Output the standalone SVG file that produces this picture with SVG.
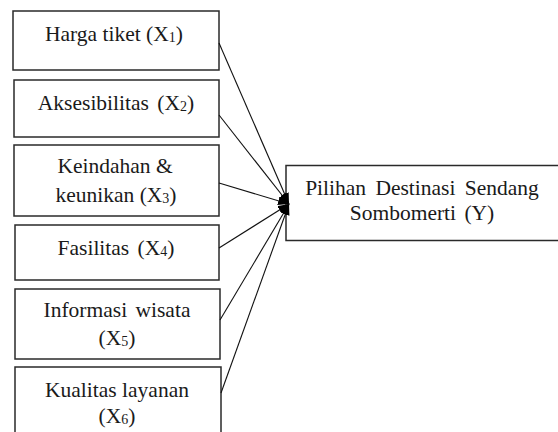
<svg xmlns="http://www.w3.org/2000/svg" width="558" height="432" viewBox="0 0 558 432">
<style>
.box{fill:#fff;stroke:#2a2a2a;stroke-width:1.5}
.t{font-family:"Liberation Serif","Times New Roman",serif;font-size:21.5px;fill:#1a1a1a;text-anchor:middle}
.s{font-size:14px}
.c{stroke:#111;stroke-width:1.1;fill:none;marker-end:url(#ah)}
</style>
<defs>
<marker id="ah" viewBox="0 0 10 8" refX="10" refY="4" markerWidth="11" markerHeight="9" markerUnits="userSpaceOnUse" orient="auto">
<path d="M0,0 L10,4 L0,8 Z" fill="#000"/>
</marker>
</defs>
<rect width="558" height="432" fill="#fff"/>
<g id="n1"><rect class="box" x="13" y="11" width="206" height="59"/>
<text class="t" x="114" y="41">Harga tiket (X<tspan class="s" dy="1">1</tspan><tspan dy="-1">)</tspan></text></g>
<g id="n2"><rect class="box" x="14" y="80" width="205" height="57"/>
<text class="t" x="116" y="110" word-spacing="3">Aksesibilitas (X<tspan class="s" dy="1">2</tspan><tspan dy="-1">)</tspan></text></g>
<g id="n3"><rect class="box" x="14" y="145" width="205" height="71"/>
<text class="t" x="115" y="173">Keindahan &amp;</text>
<text class="t" x="116" y="202">keunikan (X<tspan class="s" dy="1">3</tspan><tspan dy="-1">)</tspan></text></g>
<g id="n4"><rect class="box" x="15" y="225" width="204" height="55"/>
<text class="t" x="116" y="255" word-spacing="3">Fasilitas (X<tspan class="s" dy="1">4</tspan><tspan dy="-1">)</tspan></text></g>
<g id="n5"><rect class="box" x="15" y="289" width="205" height="70"/>
<text class="t" x="117" y="317" word-spacing="3">Informasi wisata</text>
<text class="t" x="117" y="345">(X<tspan class="s" dy="1">5</tspan><tspan dy="-1">)</tspan></text></g>
<g id="n6"><rect class="box" x="15" y="367" width="206" height="80"/>
<text class="t" x="117" y="397">Kualitas layanan</text>
<text class="t" x="117" y="423">(X<tspan class="s" dy="1">6</tspan><tspan dy="-1">)</tspan></text></g>
<g id="ny"><rect class="box" x="286" y="165.5" width="280" height="75"/>
<text class="t" x="422" y="195" word-spacing="4">Pilihan Destinasi Sendang</text>
<text class="t" x="422" y="220" word-spacing="3">Sombomerti (Y)</text></g>
<g id="connectors">
<line class="c" x1="219" y1="43" x2="289" y2="204"/>
<line class="c" x1="219" y1="115" x2="289" y2="204"/>
<line class="c" x1="219" y1="183" x2="289" y2="204"/>
<line class="c" x1="219" y1="248" x2="289" y2="204"/>
<line class="c" x1="220" y1="320" x2="289" y2="204"/>
<line class="c" x1="221" y1="393" x2="289" y2="204"/>
</g>
</svg>
